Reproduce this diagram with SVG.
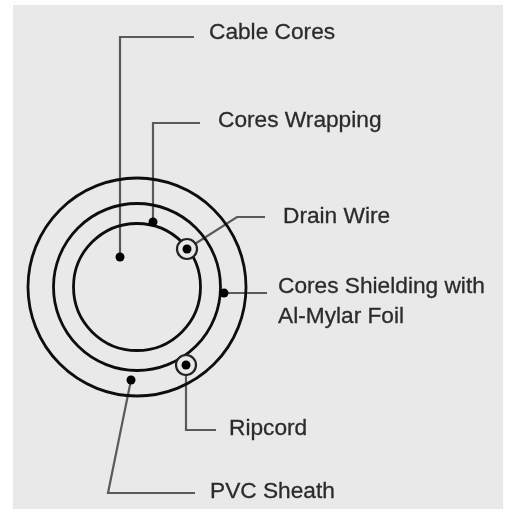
<svg xmlns="http://www.w3.org/2000/svg" width="509" height="509" viewBox="0 0 509 509">
<style>
.ring{fill:none;stroke:#111;stroke-width:2.8}
.lead{fill:none;stroke:#5a5a5a;stroke-width:2.2}
.dot{fill:#000}
.eye{fill:#e9e9e9;stroke:#222;stroke-width:2.2}
.label{font-family:"Liberation Sans",Arial,sans-serif;font-size:22.7px;fill:#2c2c2c;stroke:#2c2c2c;stroke-width:0.3}
</style>
<defs><filter id="soft" x="-5%" y="-5%" width="110%" height="110%"><feGaussianBlur stdDeviation="0.6"/></filter></defs>
<rect width="509" height="509" fill="#fff"/>
<rect x="13" y="5" width="490" height="504" fill="#e9e9e9"/>
<g filter="url(#soft)">
<g id="connectors">
<path class="lead" d="M120 257V37H194"/>
<path class="lead" d="M153 222V123H200"/>
<path class="lead" d="M187 249L237 217H265"/>
<path class="lead" d="M224 293H267"/>
<path class="lead" d="M186 365V430H216"/>
<path class="lead" d="M131 380L108 493H195"/>
</g>
<g id="pvc-sheath"><circle class="ring" cx="137" cy="287" r="109"/><circle class="dot" cx="131" cy="380" r="4.5"/><text class="label" x="210" y="498">PVC Sheath</text></g>
<g id="cores-shielding"><circle class="ring" cx="137" cy="287" r="83.5"/><circle class="dot" cx="224" cy="293" r="4.5"/><text class="label" x="278" y="293">Cores Shielding with</text><text class="label" x="278" y="322.500">Al-Mylar Foil</text></g>
<g id="cores-wrapping"><circle class="ring" cx="137" cy="287" r="63.5"/><circle class="dot" cx="153" cy="222" r="4.5"/><text class="label" x="218" y="126.500">Cores Wrapping</text></g>
<g id="cable-cores"><circle class="dot" cx="120" cy="257" r="4.5"/><text class="label" x="209" y="39">Cable Cores</text></g>
<g id="drain-wire"><circle class="eye" cx="187" cy="249" r="10"/><circle class="dot" cx="187" cy="249" r="4.5"/><text class="label" x="283" y="223">Drain Wire</text></g>
<g id="ripcord"><circle class="eye" cx="186" cy="365" r="10"/><circle class="dot" cx="186" cy="365" r="4.5"/><text class="label" x="229" y="435">Ripcord</text></g>
</g>
</svg>
